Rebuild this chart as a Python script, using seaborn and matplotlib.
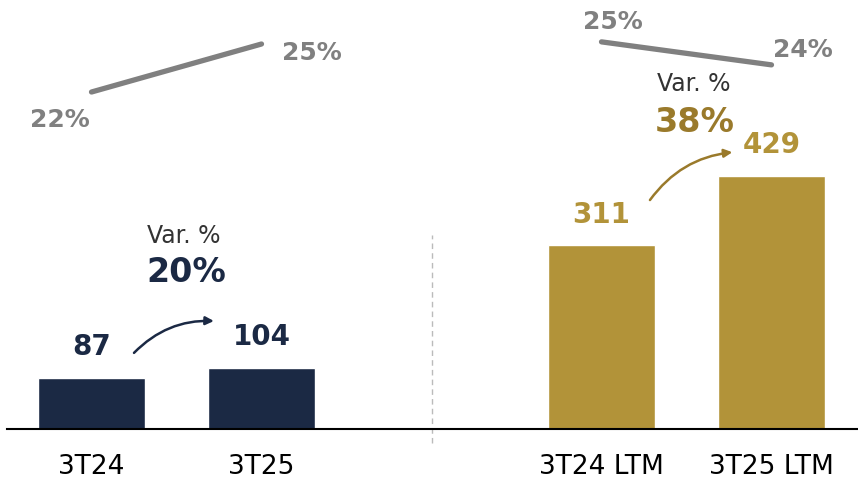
import matplotlib
matplotlib.use("Agg")
import matplotlib.pyplot as plt
import seaborn as sns
import pandas as pd

# data
categorias = ["3T24", "3T25", "3T24 LTM", "3T25 LTM"]
grupos = ["trim", "trim", "ltm", "ltm"]
valores = [87, 104, 311, 429]
margem_trim = [22, 25]
margem_ltm = [25, 24]
var_trim = "20%"
var_ltm = "38%"

ordem = ["3T24", "3T25", "", "3T24 LTM", "3T25 LTM"]

NAVY = "#1B2944"
GOLD = "#B29339"
DARK_GOLD = "#9A7A2B"
GRAY = "#808080"

df = pd.DataFrame({"cat": categorias, "grupo": grupos, "valor": valores})

sns.set_style("white")
plt.rcParams["font.family"] = ["DejaVu Sans"]

fig = plt.figure(figsize=(8.58, 4.9), dpi=100)
ax = fig.add_axes([6.5 / 858, 61 / 490, 850 / 858, 429 / 490])

sns.barplot(data=df, x="cat", y="valor", hue="grupo", order=ordem,
            palette={"trim": NAVY, "ltm": GOLD}, width=0.63,
            legend=False, ax=ax, saturation=1)

ax.set_xlim(-0.5, 4.5)
ax.set_ylim(0, 727)

# value labels
for cont, cor in zip(ax.containers, [NAVY, GOLD]):
    ax.bar_label(cont, labels=[f"{v:.0f}" for v in cont.datavalues],
                 padding=12, fontsize=20, fontweight="bold", color=cor)

# margin lines, each pair on its own scale
ax_l = ax.twinx()
ax_l.set_ylim(0.94, 27.75)
sns.lineplot(x=[0, 1], y=margem_trim, ax=ax_l, color=GRAY, linewidth=3.8,
             solid_capstyle="round")
ax_r = ax.twinx()
ax_r.set_ylim(8.17, 26.82)
sns.lineplot(x=[3, 4], y=margem_ltm, ax=ax_r, color=GRAY, linewidth=3.8,
             solid_capstyle="round")
for a in (ax_l, ax_r):
    a.set_xlim(-0.5, 4.5)
    a.axis("off")

lbl = dict(fontsize=18, fontweight="bold", color=GRAY, ha="center", va="center")
ax.text(-0.185, 524, f"{margem_trim[0]}%", **lbl)
ax.text(1.297, 637, f"{margem_trim[1]}%", **lbl)
ax.text(3.068, 690, f"{margem_ltm[0]}%", **lbl)
ax.text(4.185, 642, f"{margem_ltm[1]}%", **lbl)

# variation annotations
ax.text(0.54, 327, "Var. %", fontsize=17, color="#333333", ha="center", va="center")
ax.text(0.556, 266, var_trim, fontsize=24, fontweight="bold", color=NAVY,
        ha="center", va="center")
ax.text(3.54, 585, "Var. %", fontsize=17, color="#333333", ha="center", va="center")
ax.text(3.55, 520, var_ltm, fontsize=24, fontweight="bold", color=DARK_GOLD,
        ha="center", va="center")

ax.annotate("", xy=(0.72, 183), xytext=(0.25, 129),
            arrowprops=dict(arrowstyle="-|>", color=NAVY, lw=1.8,
                            connectionstyle="arc3,rad=-0.22",
                            mutation_scale=12, shrinkA=0, shrinkB=0))
ax.annotate("", xy=(3.77, 469), xytext=(3.285, 388),
            arrowprops=dict(arrowstyle="-|>", color=DARK_GOLD, lw=1.8,
                            connectionstyle="arc3,rad=-0.22",
                            mutation_scale=12, shrinkA=0, shrinkB=0))

# separator
ax.axvline(2, ymin=-0.033, ymax=0.452, color="#BBBBBB", lw=1,
           ls=(0, (4, 3)), clip_on=False)

# axes styling
for s in ["top", "left", "right"]:
    ax.spines[s].set_visible(False)
ax.spines["bottom"].set_color("black")
ax.spines["bottom"].set_linewidth(1.5)
ax.set_yticks([])
ax.set_xlabel("")
ax.set_ylabel("")
ax.tick_params(axis="x", length=0, pad=18, labelsize=19, labelcolor="black")

fig.savefig("out.png", dpi=100)
